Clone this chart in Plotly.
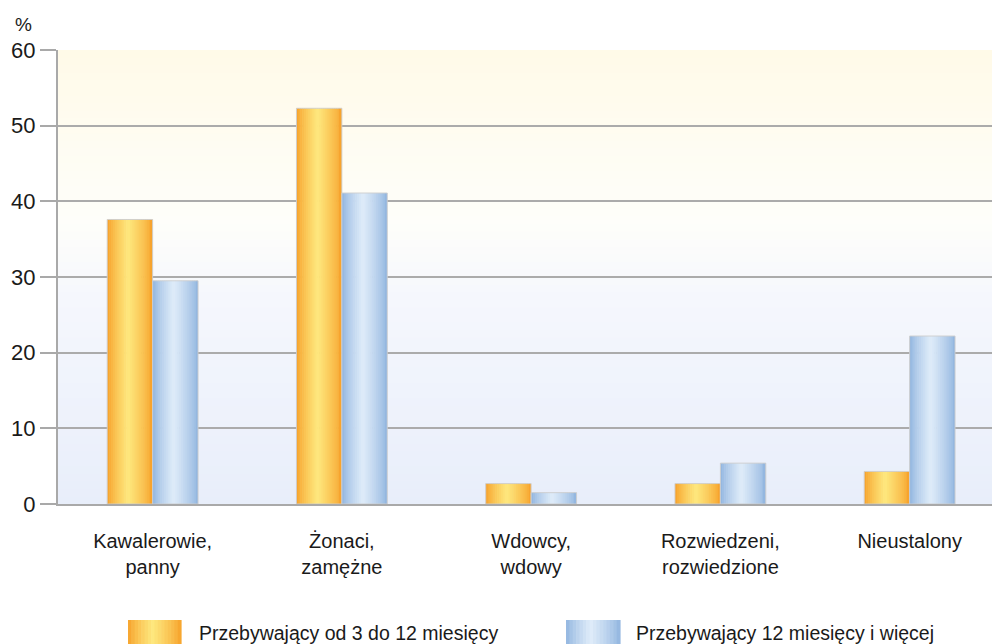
import plotly.graph_objects as go

# ---- data ----
categories = ["Kawalerowie,<br>panny", "Żonaci,<br>zamężne", "Wdowcy,<br>wdowy",
              "Rozwiedzeni,<br>rozwiedzione", "Nieustalony"]
short_stay = [37.6, 52.3, 2.7, 2.7, 4.3]
long_stay = [29.5, 41.1, 1.5, 5.4, 22.2]
series_names = ["Przebywający od 3 do 12 miesięcy", "Przebywający 12 miesięcy i więcej"]
y_ticks = [0, 10, 20, 30, 40, 50, 60]
y_unit = "%"

FONT = "Liberation Sans, Arial, sans-serif"
W, H = 992, 644
ML, MR, MT, MB = 58, 0, 50, 140
PW, PH = W - ML - MR, H - MT - MB

ORANGE_EDGE, ORANGE_MID = (246, 158, 38), (254, 232, 126)
BLUE_EDGE, BLUE_MID = (141, 178, 222), (223, 236, 249)


def mix(c1, c2, f):
    return "rgb(%d,%d,%d)" % tuple(round(a + (b - a) * f) for a, b in zip(c1, c2))


def profile(t, c=0.46):
    s = t / c if t < c else (1 - t) / (1 - c)
    return max(0.0, min(1.0, s)) ** 0.75


fig = go.Figure()

BAR_W = 0.24
N = 24
step = BAR_W / N
for vals, edge, mid, base in [(short_stay, ORANGE_EDGE, ORANGE_MID, -BAR_W),
                              (long_stay, BLUE_EDGE, BLUE_MID, 0.0)]:
    for i in range(N):
        t = (i + 0.5) / N
        fig.add_trace(go.Bar(
            x=categories, y=vals, offset=base + i * step,
            width=step * 1.35 if i < N - 1 else step,
            marker=dict(color=mix(edge, mid, profile(t)), line=dict(width=0)),
            showlegend=False, hoverinfo="skip"))
    fig.add_trace(go.Bar(
        x=categories, y=vals, offset=base, width=BAR_W,
        marker=dict(color="rgba(0,0,0,0)", line=dict(color="rgba(205,205,205,0.9)", width=1)),
        showlegend=False))

shapes = []
# background gradient of plot area
bg_stops = [(0.0, (232, 238, 250)), (0.45, (245, 247, 253)), (0.62, (254, 254, 250)),
            (1.0, (255, 250, 232))]


def bg_color(p):
    for (p0, c0), (p1, c1) in zip(bg_stops[:-1], bg_stops[1:]):
        if p0 <= p <= p1:
            return mix(c0, c1, (p - p0) / (p1 - p0))
    return mix(bg_stops[-1][1], bg_stops[-1][1], 0)


NB = 60
for i in range(NB):
    y0, y1 = i / NB, (i + 1) / NB
    shapes.append(dict(type="rect", xref="paper", yref="paper", x0=0, x1=1,
                       y0=y0, y1=min(1, y1 + 0.004), fillcolor=bg_color((i + 0.5) / NB),
                       line=dict(width=0), layer="below"))


def px2paper_x(px):
    return (px - ML) / PW


def px2paper_y(py):
    return (H - MB - py) / PH


annotations = []
legend_items = [(series_names[0], ORANGE_EDGE, ORANGE_MID, 128, 181, 197),
                (series_names[1], BLUE_EDGE, BLUE_MID, 566, 620, 634)]
for name, edge, mid, sx0, sx1, tx in legend_items:
    ns = 16
    for i in range(ns):
        t = (i + 0.5) / ns
        a = sx0 + (sx1 - sx0) * i / ns
        b = sx0 + (sx1 - sx0) * (i + 1) / ns
        shapes.append(dict(type="rect", xref="paper", yref="paper",
                           x0=px2paper_x(a), x1=px2paper_x(b + 0.6),
                           y0=px2paper_y(646), y1=px2paper_y(620),
                           fillcolor=mix(edge, mid, profile(t)), line=dict(width=0)))
    annotations.append(dict(text=name, xref="paper", yref="paper",
                            x=px2paper_x(tx), y=px2paper_y(620), xanchor="left", yanchor="top",
                            showarrow=False, font=dict(family=FONT, size=19.5, color="#1a1a1a")))

annotations.append(dict(text=y_unit, xref="paper", yref="paper",
                        x=px2paper_x(23), y=px2paper_y(24), xanchor="center", yanchor="middle",
                        showarrow=False, font=dict(family=FONT, size=19, color="#1a1a1a")))

fig.update_layout(
    width=W, height=H,
    margin=dict(l=ML, r=MR, t=MT, b=MB, pad=0),
    paper_bgcolor="white", plot_bgcolor="white",
    barmode="overlay",
    shapes=shapes, annotations=annotations,
    font=dict(family=FONT, color="#1a1a1a"),
    xaxis=dict(range=[-0.5, -0.5 + PW / 189.25], showgrid=False, ticks="",
               showline=True, linecolor="#A9A9A9", linewidth=2,
               tickfont=dict(family=FONT, size=20, color="#1a1a1a"),
               ticklabelstandoff=18, fixedrange=True),
    yaxis=dict(range=[0, 60], tickvals=y_ticks, ticks="outside", ticklen=16, tickwidth=2,
               tickcolor="#A9A9A9", showline=True, linecolor="#A9A9A9", linewidth=2,
               gridcolor="#ABABAB", gridwidth=2, zeroline=False,
               tickfont=dict(family=FONT, size=22, color="#1a1a1a"), fixedrange=True),
    showlegend=False,
)

fig.write_html("out.html", config={"displayModeBar": False},
               post_script="document.body.style.margin='0';document.body.style.overflow='hidden';")
